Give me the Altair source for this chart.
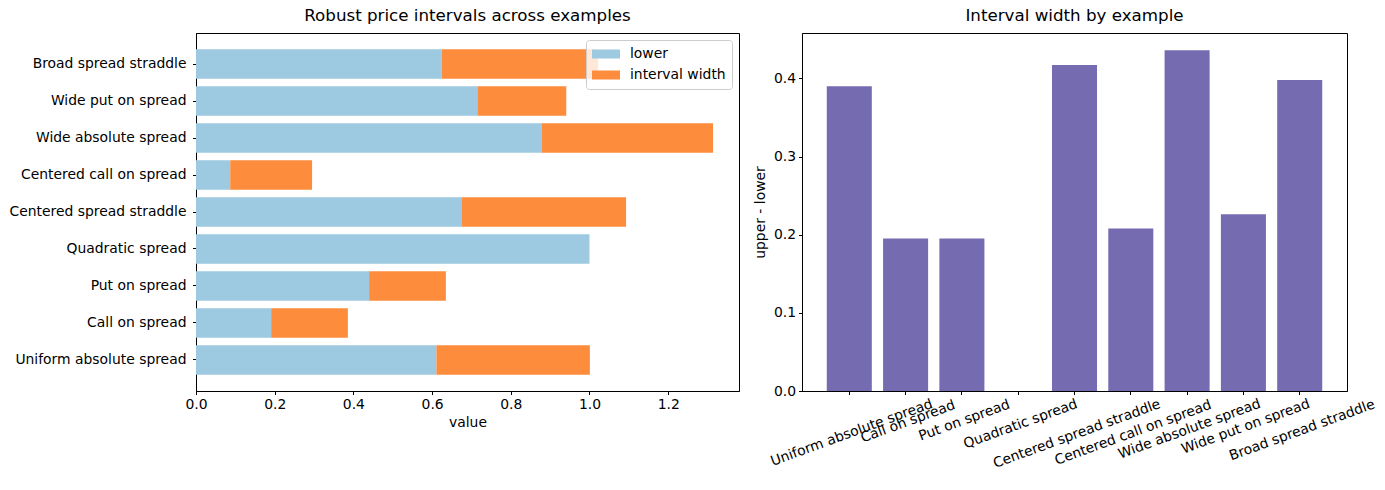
import altair as alt
import pandas as pd

# Example pricing problems and their robust price intervals
examples = [
    "Uniform absolute spread",
    "Call on spread",
    "Put on spread",
    "Quadratic spread",
    "Centered spread straddle",
    "Centered call on spread",
    "Wide absolute spread",
    "Wide put on spread",
    "Broad spread straddle",
]
lower = [0.611, 0.191, 0.440, 1.000, 0.676, 0.087, 0.878, 0.715, 0.624]
width = [0.390, 0.195, 0.195, 0.000, 0.417, 0.208, 0.436, 0.226, 0.398]

series_names = ["lower", "interval width"]
series_colors = ["#9ecae1", "#fd8d3c"]
bar_color = "#756bb1"

FONT = "DejaVu Sans"
TICK_FS = 13.9
TITLE_FS = 16.7

# long table: one segment from 0 to lower, one from lower to upper
rows = []
for name, lo, w in zip(examples, lower, width):
    rows.append({"example": name, "series": "lower", "start": 0.0, "end": lo})
    rows.append({"example": name, "series": "interval width", "start": lo, "end": lo + w})
stack_df = pd.DataFrame(rows)

width_df = pd.DataFrame({"example": examples, "width": width})

axis_common = dict(
    domainColor="black",
    tickColor="black",
    tickSize=3.5,
    labelColor="black",
    labelFont=FONT,
    labelFontSize=TICK_FS,
    labelFlush=False,
    labelOverlap=False,
    titleFont=FONT,
    titleFontSize=TICK_FS,
    titleFontWeight="normal",
    titleColor="black",
    grid=False,
)

legend_rect = "M-1,-0.32H1V0.32H-1Z"

left = (
    alt.Chart(stack_df, title=alt.TitleParams(
        "Robust price intervals across examples",
        font=FONT, fontSize=TITLE_FS, fontWeight="normal", color="black", offset=8))
    .mark_bar()
    .encode(
        y=alt.Y(
            "example:N",
            sort=list(reversed(examples)),
            scale=alt.Scale(paddingInner=0.2, paddingOuter=0.44),
            axis=alt.Axis(title=None, labelPadding=6.5, **axis_common),
        ),
        x=alt.X(
            "start:Q",
            scale=alt.Scale(domain=[0, 1.38], nice=False, zero=True),
            axis=alt.Axis(title="value", values=[0, 0.2, 0.4, 0.6, 0.8, 1.0, 1.2],
                          format=".1f", labelPadding=3, titlePadding=4, **axis_common),
        ),
        x2="end:Q",
        color=alt.Color(
            "series:N",
            scale=alt.Scale(domain=series_names, range=series_colors),
            sort=series_names,
            legend=alt.Legend(
                title=None,
                orient="top-right",
                offset=7,
                symbolType=legend_rect,
                symbolSize=784,
                symbolStrokeWidth=0,
                symbolOpacity=1,
                labelFont=FONT,
                labelFontSize=TICK_FS,
                labelColor="black",
                clipHeight=16,
                rowPadding=5,
                labelOffset=10,
                padding=6,
                fillColor="rgba(255,255,255,0.8)",
                strokeColor="#cccccc",
                cornerRadius=3,
            ),
        ),
        order=alt.Order("start:Q"),
    )
    .properties(width=543, height=358)
)

right = (
    alt.Chart(width_df, title=alt.TitleParams(
        "Interval width by example",
        font=FONT, fontSize=TITLE_FS, fontWeight="normal", color="black", offset=8))
    .mark_bar(color=bar_color)
    .encode(
        x=alt.X(
            "example:N",
            sort=examples,
            scale=alt.Scale(paddingInner=0.2, paddingOuter=0.44),
            axis=alt.Axis(
                title=None,
                labelAngle=340,
                labelAlign="center",
                labelBaseline="top",
                labelPadding=alt.ExprRef("3 + length(datum.value) * 1.23"),
                **axis_common,
            ),
        ),
        y=alt.Y(
            "width:Q",
            scale=alt.Scale(domain=[0, 0.458], nice=False),
            axis=alt.Axis(title="upper - lower", values=[0, 0.1, 0.2, 0.3, 0.4],
                          format=".1f", labelPadding=3, titlePadding=6, **axis_common),
        ),
    )
    .properties(width=545, height=358)
)

chart = (
    alt.hconcat(left, right, spacing=12)
    .resolve_legend(color="independent")
    .resolve_scale(color="independent")
    .properties(padding={"left": 8, "top": 7, "right": 5, "bottom": 5})
    .configure(background="white")
    .configure_view(stroke="black", strokeWidth=1)
)

chart.save("out.html", embed_options={"renderer": "svg", "actions": False})
